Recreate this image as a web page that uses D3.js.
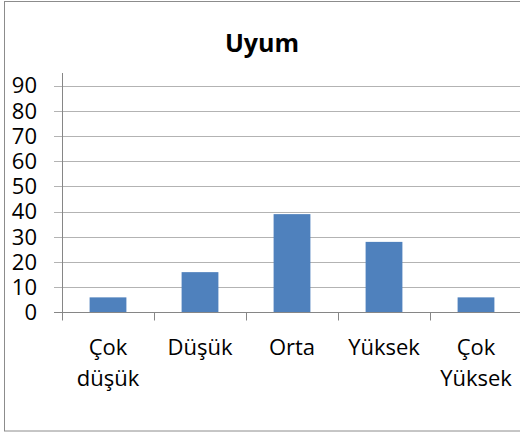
<!DOCTYPE html>
<html>
<head>
<meta charset="utf-8">
<script src="https://cdn.jsdelivr.net/npm/d3@7"></script>
<style>
  body { margin: 0; background: #fff; }
  svg { display: block; font-family: "Open Sans", sans-serif; }
</style>
</head>
<body>
<svg id="chart" width="520" height="434"></svg>
<script>
const categories = [["Çok", "düşük"], ["Düşük"], ["Orta"], ["Yüksek"], ["Çok", "Yüksek"]];
const values = [6, 16, 39, 28, 6];
const yTicks = [0, 10, 20, 30, 40, 50, 60, 70, 80, 90];

const svg = d3.select('#chart');

// outer chart border
svg.append('rect')
  .attr('x', 4.5).attr('y', 1.5)
  .attr('width', 530).attr('height', 429.5)
  .attr('fill', '#fff')
  .attr('stroke', '#8c8c8c');

// title
svg.append('text')
  .attr('x', 262).attr('y', 52)
  .attr('text-anchor', 'middle')
  .attr('font-size', 25).attr('font-weight', 'bold')
  .text('Uyum');

const x = d3.scaleBand()
  .domain(d3.range(categories.length))
  .range([62, 522])
  .paddingInner(0.6).paddingOuter(0.3);

const y = d3.scaleLinear().domain([0, 90]).range([312.5, 85.5]);

// gridlines with small left ticks
svg.append('g')
  .selectAll('line')
  .data(yTicks.filter(d => d > 0))
  .enter()
  .append('line')
  .attr('x1', 54).attr('x2', 522)
  .attr('y1', d => Math.round(y(d)) + 0.5)
  .attr('y2', d => Math.round(y(d)) + 0.5)
  .attr('stroke', '#b3b3b3');

// y tick labels
svg.append('g')
  .selectAll('text')
  .data(yTicks)
  .enter()
  .append('text')
  .attr('x', 37)
  .attr('y', d => y(d) + 7.8)
  .attr('text-anchor', 'end')
  .attr('font-size', 22)
  .attr('fill', '#000')
  .text(d => d);

// bars
svg.append('g')
  .selectAll('rect')
  .data(values)
  .enter()
  .append('rect')
  .attr('x', (d, i) => x(i))
  .attr('width', x.bandwidth())
  .attr('y', d => y(d))
  .attr('height', d => y(0) - y(d))
  .attr('fill', '#4f81bd');

// y axis line
svg.append('line')
  .attr('x1', 62.5).attr('x2', 62.5)
  .attr('y1', 73).attr('y2', 320)
  .attr('stroke', '#868686');
svg.append('line')
  .attr('x1', 54).attr('x2', 62)
  .attr('y1', 312.5).attr('y2', 312.5)
  .attr('stroke', '#868686');

// x axis line and category ticks
svg.append('line')
  .attr('x1', 62).attr('x2', 522)
  .attr('y1', 312.5).attr('y2', 312.5)
  .attr('stroke', '#868686');

const step = x.step();
svg.append('g')
  .selectAll('line')
  .data(d3.range(categories.length + 1))
  .enter()
  .append('line')
  .attr('x1', i => Math.round(62 + i * step) + 0.5)
  .attr('x2', i => Math.round(62 + i * step) + 0.5)
  .attr('y1', 312.5).attr('y2', 320.5)
  .attr('stroke', '#868686');

// category labels
const labels = svg.append('g')
  .selectAll('text')
  .data(categories)
  .enter()
  .append('text')
  .attr('text-anchor', 'middle')
  .attr('font-size', 22)
  .attr('fill', '#000');

labels.selectAll('tspan')
  .data((d, i) => d.map(t => ({ t, i })))
  .enter()
  .append('tspan')
  .attr('x', d => x(d.i) + x.bandwidth() / 2)
  .attr('y', (d, j) => 355 + j * 31)
  .text(d => d.t);
</script>
</body>
</html>
